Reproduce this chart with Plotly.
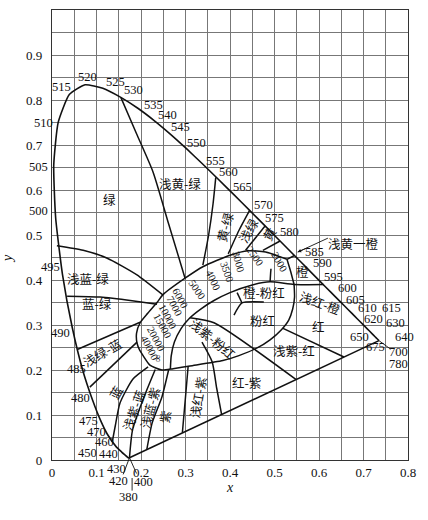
import plotly.graph_objects as go

# CIE 1931 spectrum locus: wavelength (nm) and chromaticity coordinates
wavelength = [380, 400, 420, 430, 440, 450, 460, 470, 475, 480, 485, 490, 495, 500, 505,
              510, 515, 520, 525, 530, 535, 540, 545, 550, 555, 560, 565, 570, 575, 580,
              585, 590, 595, 600, 605, 610, 615, 620, 630, 640, 650, 660, 675, 700, 780]
locus_x = [0.1741, 0.1733, 0.1714, 0.1689, 0.1644, 0.1566, 0.1440, 0.1241, 0.1096, 0.0913,
           0.0687, 0.0454, 0.0235, 0.0082, 0.0039, 0.0139, 0.0389, 0.0743, 0.1142, 0.1547,
           0.1929, 0.2296, 0.2658, 0.3016, 0.3373, 0.3731, 0.4087, 0.4441, 0.4788, 0.5125,
           0.5448, 0.5752, 0.6029, 0.6270, 0.6482, 0.6658, 0.6801, 0.6915, 0.7079, 0.7190,
           0.7260, 0.7300, 0.7334, 0.7347, 0.7347]
locus_y = [0.0050, 0.0048, 0.0051, 0.0069, 0.0109, 0.0177, 0.0297, 0.0578, 0.0868, 0.1327,
           0.2007, 0.2950, 0.4127, 0.5384, 0.6548, 0.7502, 0.8120, 0.8338, 0.8262, 0.8059,
           0.7816, 0.7543, 0.7243, 0.6923, 0.6589, 0.6245, 0.5896, 0.5547, 0.5202, 0.4866,
           0.4544, 0.4242, 0.3965, 0.3725, 0.3514, 0.3340, 0.3197, 0.3083, 0.2920, 0.2809,
           0.2740, 0.2700, 0.2666, 0.2653, 0.2653]

# wavelength labels placed around the locus
wl_text = ["380", "400", "420", "430", "440", "450", "460", "470", "475", "480", "485", "490",
           "495", "500", "505", "510", "515", "520", "525", "530", "535", "540", "545", "550",
           "555", "560", "565", "570", "575", "580", "585", "590", "595", "600", "605", "610",
           "615", "620", "630", "640", "650", "675", "700", "780"]
wl_lx = [0.171, 0.206, 0.150, 0.144, 0.127, 0.080, 0.119, 0.101, 0.081, 0.063, 0.056, 0.018,
         -0.004, -0.031, -0.031, -0.020, 0.022, 0.079, 0.142, 0.183, 0.227, 0.259, 0.289, 0.325,
         0.368, 0.396, 0.427, 0.476, 0.499, 0.533, 0.590, 0.607, 0.632, 0.663, 0.681, 0.708,
         0.762, 0.722, 0.772, 0.793, 0.692, 0.726, 0.778, 0.778]
wl_ly = [-0.082, -0.049, -0.046, -0.020, 0.014, 0.016, 0.040, 0.062, 0.087, 0.138, 0.202, 0.283,
         0.429, 0.553, 0.651, 0.749, 0.829, 0.851, 0.840, 0.822, 0.789, 0.767, 0.740, 0.704,
         0.664, 0.640, 0.607, 0.567, 0.538, 0.507, 0.462, 0.438, 0.407, 0.382, 0.356, 0.337,
         0.337, 0.313, 0.304, 0.273, 0.273, 0.251, 0.240, 0.214]

# boundaries between the colour-name regions (x, y)
b_green_ygreen = [(0.1547, 0.8059), (0.19, 0.725), (0.227, 0.640), (0.262, 0.525), (0.299, 0.404)]
b_ygreen_yg = [(0.368, 0.628), (0.362, 0.570), (0.352, 0.500), (0.339, 0.433)]
b_yg_lgreen = [(0.4441, 0.5547), (0.420, 0.510), (0.396, 0.458)]
b_lgreen_yellow = [(0.4788, 0.5202), (0.435, 0.466)]
b_yellow_yorange = [(0.5125, 0.4866), (0.474, 0.466)]
b_yorange_orange = [(0.5448, 0.4544), (0.528, 0.446)]
b_bgreen_green = [(0.011, 0.476), (0.070, 0.466), (0.123, 0.449), (0.190, 0.412), (0.249, 0.367)]
b_bg_bgreen = [(0.034, 0.364), (0.108, 0.362), (0.180, 0.354), (0.236, 0.346)]
b_gblue_bg = [(0.058, 0.246), (0.198, 0.306)]
b_blue_gblue = [(0.085, 0.162), (0.191, 0.262)]
b_pblue_blue = [(0.1355, 0.040), (0.142, 0.075), (0.153, 0.127), (0.182, 0.180), (0.216, 0.207)]
b_bpurple_pblue = [(0.1741, 0.005), (0.181, 0.067), (0.204, 0.133), (0.232, 0.201)]
b_purple_bpurple = [(0.213, 0.023), (0.225, 0.082), (0.247, 0.140), (0.262, 0.200)]
b_rpurple_purple = [(0.293, 0.061), (0.300, 0.140), (0.306, 0.209)]
b_redpurple_rpurple = [(0.381, 0.102), (0.370, 0.160), (0.360, 0.218), (0.337, 0.262)]
b_ppink_pink = [(0.548, 0.179), (0.364, 0.305), (0.310, 0.316)]
b_red_pred = [(0.518, 0.293), (0.656, 0.229)]
b_opink_pink = [(0.409, 0.322), (0.427, 0.349), (0.476, 0.351)]
b_opink_stub = [(0.427, 0.349), (0.416, 0.372)]
b_tick_2000 = [(0.490, 0.396), (0.492, 0.425)]
# white band around the blackbody locus: outer edge running round into the pink region
band_outer = [(0.528, 0.446), (0.480, 0.462), (0.440, 0.465), (0.400, 0.455), (0.340, 0.430),
              (0.299, 0.404), (0.249, 0.367), (0.236, 0.350), (0.215, 0.326), (0.198, 0.305),
              (0.190, 0.282), (0.191, 0.260), (0.197, 0.244), (0.204, 0.233), (0.220, 0.211),
              (0.247, 0.200), (0.272, 0.203), (0.310, 0.209), (0.384, 0.221), (0.420, 0.232),
              (0.461, 0.249), (0.490, 0.267), (0.515, 0.289), (0.532, 0.311), (0.541, 0.336),
              (0.545, 0.362), (0.544, 0.390)]
band_inner = [(0.610, 0.390), (0.544, 0.390), (0.490, 0.396), (0.450, 0.389), (0.400, 0.372),
              (0.365, 0.355), (0.335, 0.336), (0.310, 0.316), (0.290, 0.292), (0.275, 0.262),
              (0.268, 0.232), (0.266, 0.202)]
band_cap = [(0.528, 0.446), (0.536, 0.420), (0.544, 0.390)]

boundaries = [b_green_ygreen, b_ygreen_yg, b_yg_lgreen, b_lgreen_yellow, b_yellow_yorange,
              b_yorange_orange, b_bgreen_green, b_bg_bgreen, b_gblue_bg, b_blue_gblue,
              b_pblue_blue, b_bpurple_pblue, b_purple_bpurple, b_rpurple_purple,
              b_redpurple_rpurple, b_ppink_pink, b_red_pred, b_opink_pink, b_opink_stub,
              b_tick_2000, band_outer, band_inner, band_cap]

# leaders from labels set off the locus
leaders = [[(0.1741, 0.005), (0.160, -0.032)],
           [(0.1741, 0.005), (0.190, -0.030)],
           [(0.180, -0.040), (0.180, -0.068)],
           [(0.7347, 0.2653), (0.760, 0.247)],
           [(0.620, 0.493), (0.552, 0.462)]]

# colour names of the regions
name_text = ["绿", "浅黄-绿", "黄-绿", "浅绿", "黄", "橙", "浅红-橙", "红", "浅紫-红", "红-紫",
             "浅红-紫", "紫", "浅蓝-紫", "浅紫-蓝", "蓝", "浅绿-蓝", "蓝-绿", "浅蓝-绿",
             "橙-粉红", "粉红", "浅紫-粉红"]
name_x = [0.130, 0.288, 0.389, 0.440, 0.487, 0.562, 0.602, 0.600, 0.544, 0.436,
          0.326, 0.254, 0.220, 0.182, 0.142, 0.112, 0.101, 0.081,
          0.476, 0.472, 0.362]
name_y = [0.578, 0.615, 0.518, 0.511, 0.504, 0.418, 0.349, 0.296, 0.244, 0.173,
          0.140, 0.096, 0.116, 0.111, 0.151, 0.240, 0.347, 0.404,
          0.373, 0.311, 0.271]
name_angle = [0, 0, -75, -60, -60, 0, 20, 0, 0, 0,
              -80, -80, -75, -70, -60, -30, 0, 0,
              0, 0, 40]

# colour temperatures along the white band
temp_text = ["2000", "2500", "3000", "3500", "4000", "5000", "6000", "7000", "10000",
             "15000", "20000", "40000", "∞"]
temp_x = [0.512, 0.456, 0.420, 0.392, 0.363, 0.326, 0.289, 0.276, 0.260, 0.247, 0.233, 0.218, 0.238]
temp_y = [0.440, 0.452, 0.440, 0.418, 0.400, 0.380, 0.360, 0.342, 0.320, 0.298, 0.270, 0.249, 0.225]
temp_angle = [60, 55, 75, 70, 65, 55, 62, 62, 62, 62, 62, 62, 90]

X_MAX, Y_MAX = 0.8, 1.0


def px(v):
    return v / X_MAX


def py(v):
    return v / Y_MAX


LINE = "#111111"
fig = go.Figure()

# spectrum locus and purple line
fig.add_trace(go.Scatter(x=locus_x, y=locus_y, mode="lines",
                         line=dict(color=LINE, width=1.6, shape="spline", smoothing=0.5),
                         hoverinfo="skip", showlegend=False))
fig.add_trace(go.Scatter(x=[locus_x[0], locus_x[-1]], y=[locus_y[0], locus_y[-1]], mode="lines",
                         line=dict(color=LINE, width=1.6), hoverinfo="skip", showlegend=False))

for seg in boundaries:
    fig.add_trace(go.Scatter(x=[p[0] for p in seg], y=[p[1] for p in seg], mode="lines",
                             line=dict(color=LINE, width=1.5, shape="spline", smoothing=0.6),
                             hoverinfo="skip", showlegend=False))

shapes = []
for seg in leaders:
    shapes.append(dict(type="line", xref="paper", yref="paper",
                       x0=px(seg[0][0]), y0=py(seg[0][1]), x1=px(seg[1][0]), y1=py(seg[1][1]),
                       line=dict(color=LINE, width=0.9)))

ann = []
SERIF = "Liberation Serif"
CJK = "Noto Sans CJK SC"


def label(x, y, text, family, size, angle=0):
    return dict(x=px(x), y=py(y), text=text, showarrow=False, xref="paper", yref="paper",
                xanchor="center", yanchor="middle", textangle=angle,
                font=dict(family=family, size=size, color="#111"))


for t, x, y in zip(wl_text, wl_lx, wl_ly):
    ann.append(label(x, y, t, SERIF, 12.5))
for t, x, y, a in zip(name_text, name_x, name_y, name_angle):
    ann.append(label(x, y, t, CJK, 12.5, a))
for t, x, y, a in zip(temp_text, temp_x, temp_y, temp_angle):
    ann.append(label(x, y, t, SERIF, 10.5, a))
ann.append(label(0.677, 0.482, "浅黄一橙", CJK, 12.5))
ann.append(dict(x=0.552, y=0.462, ax=0.575, ay=0.472, axref="x", ayref="y", xref="x", yref="y",
                text="", showarrow=True, arrowhead=2, arrowsize=0.8, arrowwidth=0.9,
                arrowcolor=LINE))
# axis titles
ann.append(label(0.399, -0.062, "<i>x</i>", SERIF, 14))
ann.append(label(-0.099, 0.449, "<i>y</i>", SERIF, 14, -90))

GRID = "#777777"
fig.update_layout(
    width=428, height=520,
    margin=dict(l=52, r=20, t=10, b=60, autoexpand=False),
    paper_bgcolor="white", plot_bgcolor="white",
    annotations=ann, shapes=shapes,
    xaxis=dict(range=[0, X_MAX], tickvals=[0, 0.1, 0.2, 0.3, 0.4, 0.5, 0.6, 0.7, 0.8],
               ticktext=["0", "0.1", "0.2", "0.3", "0.4", "0.5", "0.6", "0.7", "0.8"],
               showgrid=True, gridcolor=GRID, gridwidth=1,
               minor=dict(dtick=0.05, showgrid=True, gridcolor=GRID, gridwidth=1),
               zeroline=False, showline=True, linecolor="#333", linewidth=1.2, mirror=True,
               ticks="", tickfont=dict(family=SERIF, size=13, color="#111")),
    yaxis=dict(range=[0, Y_MAX], tickvals=[0, 0.1, 0.2, 0.3, 0.4, 0.5, 0.6, 0.7, 0.8, 0.9],
               ticktext=["0", "0.1", "0.2", "0.3", "0.4", "0.5", "0.6", "0.7", "0.8", "0.9"],
               showgrid=True, gridcolor=GRID, gridwidth=1,
               minor=dict(dtick=0.05, showgrid=True, gridcolor=GRID, gridwidth=1),
               zeroline=False, showline=True, linecolor="#333", linewidth=1.2, mirror=True,
               ticks="", ticklabelstandoff=6, tickfont=dict(family=SERIF, size=13, color="#111")),
)

fig.write_html("out.html")
